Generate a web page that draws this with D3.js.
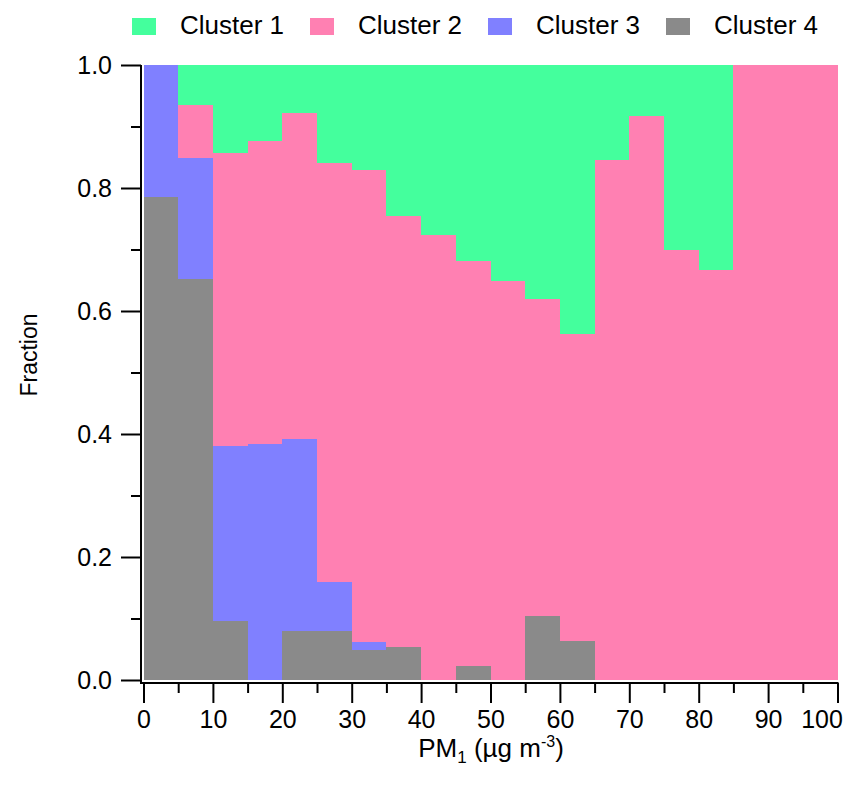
<!DOCTYPE html>
<html>
<head>
<meta charset="utf-8">
<script src="https://cdn.jsdelivr.net/npm/d3@7"></script>
<style>
  body { margin: 0; background: #fff; }
  svg text { font-family: "Liberation Sans", Arial, sans-serif; }
</style>
</head>
<body>
<svg id="chart" width="865" height="793"></svg>
<script>
// bin start (PM1, µg m-3), each bin is 5 wide
const binStarts = [0, 5, 10, 15, 20, 25, 30, 35, 40, 45, 50, 55, 60, 65, 70, 75, 80, 85, 90, 95];
const binWidth = 5;

const clusterNames = ["Cluster 1", "Cluster 2", "Cluster 3", "Cluster 4"];
const clusterColors = ["#44ff9d", "#ff80b2", "#8080ff", "#8a8a8a"];

// fractions per bin
const cluster1 = [0, 0.065, 0.143, 0.124, 0.078, 0.160, 0.171, 0.245, 0.276, 0.319, 0.352, 0.380, 0.438, 0.154, 0.083, 0.301, 0.333, 0, 0, 0];
const cluster2 = [0, 0.087, 0.477, 0.492, 0.530, 0.681, 0.767, 0.701, 0.724, 0.658, 0.648, 0.516, 0.499, 0.846, 0.917, 0.699, 0.667, 1, 1, 1];
const cluster3 = [0.215, 0.196, 0.284, 0.384, 0.313, 0.079, 0.013, 0, 0, 0, 0, 0, 0, 0, 0, 0, 0, 0, 0, 0];
const cluster4 = [0.785, 0.652, 0.096, 0, 0.079, 0.080, 0.049, 0.054, 0, 0.023, 0, 0.104, 0.063, 0, 0, 0, 0, 0, 0, 0];

const xMajorTicks = [0, 10, 20, 30, 40, 50, 60, 70, 80, 90, 100];
const xMinorTicks = [5, 15, 25, 35, 45, 55, 65, 75, 85, 95];
const yMajorTicks = [0, 0.2, 0.4, 0.6, 0.8, 1.0];
const yMinorTicks = [0.1, 0.3, 0.5, 0.7, 0.9];

const svg = d3.select("#chart");

const x = d3.scaleLinear().domain([0, 100]).range([143.5, 837.5]);
const y = d3.scaleLinear().domain([0, 1]).range([680, 65]);

const axisX = 141;   // y axis sits a little left of the bars
const axisY = 683;   // x axis sits a little below

// table for the stack
const rows = binStarts.map((b, i) => ({
  x0: b,
  "Cluster 1": cluster1[i],
  "Cluster 2": cluster2[i],
  "Cluster 3": cluster3[i],
  "Cluster 4": cluster4[i]
}));

const color = d3.scaleOrdinal().domain(clusterNames).range(clusterColors);

// bottom to top: 4, 3, 2, 1
const stack = d3.stack().keys(["Cluster 4", "Cluster 3", "Cluster 2", "Cluster 1"]);
const series = stack(rows);

svg.append("g")
  .attr("shape-rendering", "crispEdges")
  .selectAll("g")
  .data(series)
  .join("g")
  .attr("fill", d => color(d.key))
  .selectAll("rect")
  .data(d => d)
  .join("rect")
  .attr("x", d => x(d.data.x0))
  .attr("width", d => x(d.data.x0 + binWidth) - x(d.data.x0))
  .attr("y", d => y(d[1]))
  .attr("height", d => Math.max(0, y(d[0]) - y(d[1])));

// axes
const fmt = d3.format(".1f");

const yAxis = svg.append("g").attr("transform", `translate(${axisX},0)`);
yAxis.call(d3.axisLeft(y).tickValues(yMajorTicks).tickFormat(fmt).tickSize(20).tickSizeOuter(0).tickPadding(9));
yAxis.append("g").call(d3.axisLeft(y).tickValues(yMinorTicks).tickFormat("").tickSize(10).tickSizeOuter(0));

const xAxis = svg.append("g").attr("transform", `translate(0,${axisY})`);
xAxis.call(d3.axisBottom(x).tickValues(xMajorTicks).tickSize(20).tickSizeOuter(0).tickPadding(7));
xAxis.append("g").call(d3.axisBottom(x).tickValues(xMinorTicks).tickFormat("").tickSize(10).tickSizeOuter(0));

svg.selectAll(".domain").remove();
svg.selectAll(".tick line").attr("stroke", "#000").attr("stroke-width", 2);
svg.selectAll(".tick text").attr("font-size", 25).attr("fill", "#000")
  .style("font-family", '"Liberation Sans", Arial, sans-serif');
// last label is pulled inside the frame, like the original
xAxis.selectAll(".tick text").filter(d => d === 100).attr("dx", -16);

// axis lines meeting at the corner
svg.append("path")
  .attr("d", `M${axisX},${y(1)}V${axisY}H${x(100) + 1}`)
  .attr("fill", "none")
  .attr("stroke", "#000")
  .attr("stroke-width", 2);

// titles
svg.append("text")
  .attr("transform", "translate(37,355) rotate(-90)")
  .attr("text-anchor", "middle")
  .attr("font-size", 23)
  .text("Fraction");

const xt = svg.append("text")
  .attr("x", 491)
  .attr("y", 757)
  .attr("text-anchor", "middle")
  .attr("font-size", 26);
xt.append("tspan").text("PM");
xt.append("tspan").attr("font-size", 17).attr("dy", 6).text("1");
xt.append("tspan").attr("dy", -6).text(" (µg m");
xt.append("tspan").attr("font-size", 16).attr("dy", -10).text("-3");
xt.append("tspan").attr("dy", 10).text(")");

// legend
const legend = svg.append("g")
  .selectAll("g")
  .data(clusterNames)
  .join("g")
  .attr("transform", (d, i) => `translate(${132 + i * 178},0)`);

legend.append("rect")
  .attr("x", 0)
  .attr("y", 18)
  .attr("width", 24)
  .attr("height", 17)
  .attr("fill", d => color(d));

legend.append("text")
  .attr("x", 48)
  .attr("y", 34)
  .attr("font-size", 26)
  .text(d => d);
</script>
</body>
</html>
